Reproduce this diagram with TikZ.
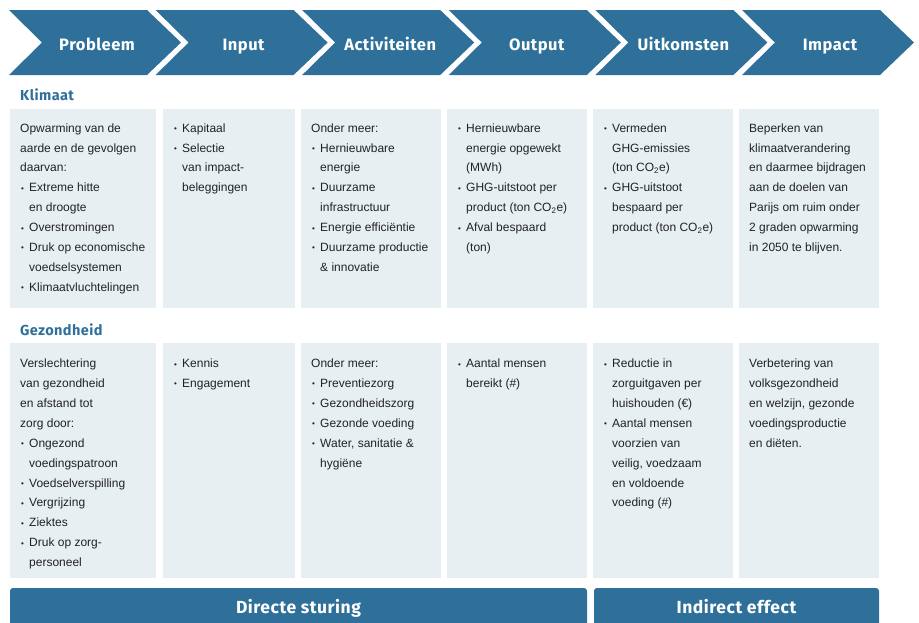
\documentclass[tikz,border=0pt]{standalone}
\usepackage{fontspec}
\setmainfont{Liberation Sans}
\newfontfamily\headfont[LetterSpace=3]{Fira Sans}
\definecolor{cblue}{HTML}{2E7099}
\definecolor{cbox}{HTML}{E8EFF3}
\definecolor{ctext}{HTML}{222222}
\newcommand{\bul}{\makebox[9pt][l]{\hspace{1pt}\raisebox{0.6pt}{\fontsize{8}{8}\selectfont\textbullet}}}
\newcommand{\cnt}{\hspace*{9pt}}
\newcommand{\cotwo}{CO\textsubscript{2}e}
\tikzset{
  chev/.style={fill=cblue, draw=none},
  chevlabel/.style={text=white, font=\headfont\bfseries\fontsize{16.5}{18}\selectfont, anchor=base, inner sep=0pt},
  barlabel/.style={text=white, font=\headfont\bfseries\fontsize{17.5}{19}\selectfont, anchor=base, inner sep=0pt},
  boxbg/.style={fill=cbox, draw=none, anchor=north west, inner sep=0pt},
  body/.style={anchor=north west, inner sep=0pt, align=left, text=ctext, font=\fontsize{12}{19.9}\selectfont},
  seclabel/.style={anchor=base west, inner sep=0pt, text=cblue, font=\headfont\bfseries\fontsize{14.5}{16}\selectfont},
  bar/.style={fill=cblue, rounded corners=3pt}
}
\begin{document}
\begin{tikzpicture}[x=1pt,y=-1pt]
\useasboundingbox (0,0) rectangle (919,622);
\clip (0,0) rectangle (919,622);
% chevrons
\foreach \i/\lab in {0/Probleem,1/Input,2/Activiteiten,3/Output,4/Uitkomsten,5/Impact} {
  \pgfmathsetmacro\L{9+146.6*\i}
  \fill[chev] (\L,10) -- ++(138,0) -- ++(34,32.5) -- ++(-34,32.5) -- ++(-138,0) -- ++(33,-32.5) -- cycle;
  \node[chevlabel] (h\i) at (\L+88,50) {\lab};
}
% section labels
\node[seclabel] (klimaat) at (20,100) {Klimaat};
\node[seclabel] (gezond) at (20,335) {Gezondheid};
% boxes
\foreach \n/\l/\w in {1/10/146,2/163/132,3/301/140,4/447/140,5/593/140,6/739/140} {
  \node[boxbg, minimum width=\w pt, minimum height=198.5pt] (ba\n) at (\l,109) {};
  \node[boxbg, minimum width=\w pt, minimum height=235.5pt] (bb\n) at (\l,342.5) {};
}
% row 1 texts
\node[body] (ta1) at (20,118) {\strut Opwarming van de\\aarde en de gevolgen\\daarvan:\\\bul Extreme hitte\\\cnt en droogte\\\bul Overstromingen\\\bul Druk op economische\\\cnt voedselsystemen\\\bul Klimaatvluchtelingen};
\node[body] (ta2) at (173,118) {\strut\bul Kapitaal\\\bul Selectie\\\cnt van impact-\\\cnt beleggingen};
\node[body] (ta3) at (311,118) {\strut Onder meer:\\\bul Hernieuwbare\\\cnt energie\\\bul Duurzame\\\cnt infrastructuur\\\bul Energie efficiëntie\\\bul Duurzame productie\\\cnt \& innovatie};
\node[body] (ta4) at (457,118) {\strut\bul Hernieuwbare\\\cnt energie opgewekt\\\cnt (MWh)\\\bul GHG-uitstoot per\\\cnt product (ton \cotwo)\\\bul Afval bespaard\\\cnt (ton)};
\node[body] (ta5) at (603,118) {\strut\bul Vermeden\\\cnt GHG-emissies\\\cnt (ton \cotwo)\\\bul GHG-uitstoot\\\cnt bespaard per\\\cnt product (ton \cotwo)};
\node[body] (ta6) at (749,118) {\strut Beperken van\\klimaatverandering\\en daarmee bijdragen\\aan de doelen van\\Parijs om ruim onder\\2 graden opwarming\\in 2050 te blijven.};
% row 2 texts
\node[body] (tb1) at (20,353.5) {\strut Verslechtering\\van gezondheid\\en afstand tot\\zorg door:\\\bul Ongezond\\\cnt voedingspatroon\\\bul Voedselverspilling\\\bul Vergrijzing\\\bul Ziektes\\\bul Druk op zorg-\\\cnt personeel};
\node[body] (tb2) at (173,353.5) {\strut\bul Kennis\\\bul Engagement};
\node[body] (tb3) at (311,353.5) {\strut Onder meer:\\\bul Preventiezorg\\\bul Gezondheidszorg\\\bul Gezonde voeding\\\bul Water, sanitatie \&\\\cnt hygiëne};
\node[body] (tb4) at (457,353.5) {\strut\bul Aantal mensen\\\cnt bereikt (\#)};
\node[body] (tb5) at (603,353.5) {\strut\bul Reductie in\\\cnt zorguitgaven per\\\cnt huishouden (€)\\\bul Aantal mensen\\\cnt voorzien van\\\cnt veilig, voedzaam\\\cnt en voldoende\\\cnt voeding (\#)};
\node[body] (tb6) at (749,353.5) {\strut Verbetering van\\volksgezondheid\\en welzijn, gezonde\\voedingsproductie\\en diëten.};
% bottom bars
\fill[bar] (10,588) rectangle (587,650);
\fill[bar] (594,588) rectangle (879,650);
\node[barlabel] (direct) at (298.5,613) {Directe sturing};
\node[barlabel] (indirect) at (736.5,613) {Indirect effect};
\end{tikzpicture}
\end{document}
